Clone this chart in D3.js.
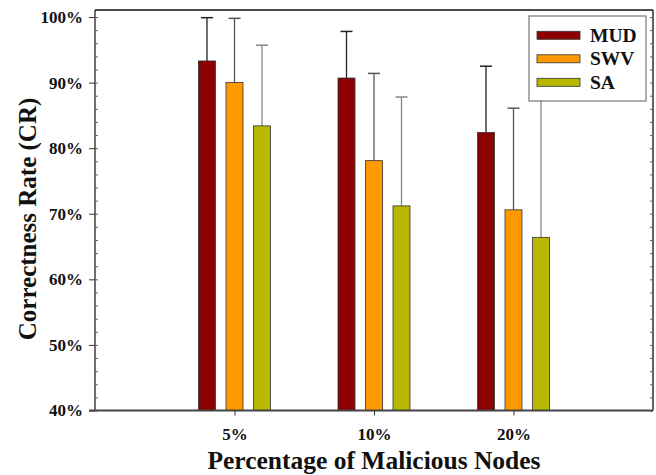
<!DOCTYPE html>
<html>
<head>
<meta charset="utf-8">
<script src="https://cdn.jsdelivr.net/npm/d3@7/dist/d3.min.js"></script>
<style>
  html, body { margin: 0; padding: 0; background: #fff; }
  svg { display: block; }
  text { font-family: "Liberation Serif", "Times New Roman", serif; font-weight: bold; fill: #111; }
</style>
</head>
<body>
<svg id="chart" width="656" height="475"></svg>
<script>
const categories = ["5%", "10%", "20%"];
const series = ["MUD", "SWV", "SA"];
const mudValues = [93.3, 90.7, 82.4];
const swvValues = [90.0, 78.1, 70.6];
const saValues = [83.4, 71.2, 66.4];
const mudErr = [6.6, 7.1, 10.1];
const swvErr = [9.8, 13.3, 15.5];
const saErr = [12.3, 16.6, 21.5];
const yTickValues = [40, 50, 60, 70, 80, 90, 100];
const yMinorValues = d3.range(40, 101, 2);
const colors = ["#8b0000", "#ff9900", "#b8b800"];
const errColors = ["#222", "#555", "#888"];

const valuesBySeries = [mudValues, swvValues, saValues];
const errBySeries = [mudErr, swvErr, saErr];
const data = [];
series.forEach((s, si) => {
  categories.forEach((c, ci) => {
    data.push({ s, si, c, v: valuesBySeries[si][ci], e: errBySeries[si][ci] });
  });
});

const svg = d3.select("#chart");
const L = 95, R = 653, T = 10, B = 410.5;

const x = d3.scalePoint().domain(categories).range([L, R]).padding(1);
const xi = d3.scalePoint().domain(series).range([-27.5, 27.5]);
const y = d3.scaleLinear().domain([40, 101.07]).range([B, T]);
const barW = 17;

const g = svg.append("g");
g.selectAll("line.err").data(data).join("line")
  .attr("x1", d => x(d.c) + xi(d.s)).attr("x2", d => x(d.c) + xi(d.s))
  .attr("y1", d => y(d.v)).attr("y2", d => y(d.v + d.e))
  .attr("stroke", d => errColors[d.si]).attr("stroke-width", 1.3);
g.selectAll("line.cap").data(data).join("line")
  .attr("x1", d => x(d.c) + xi(d.s) - 6).attr("x2", d => x(d.c) + xi(d.s) + 6)
  .attr("y1", d => y(d.v + d.e)).attr("y2", d => y(d.v + d.e))
  .attr("stroke", d => errColors[d.si]).attr("stroke-width", 1.5);
g.selectAll("rect.bar").data(data).join("rect")
  .attr("x", d => x(d.c) + xi(d.s) - barW / 2)
  .attr("width", barW)
  .attr("y", d => y(d.v))
  .attr("height", d => B - y(d.v))
  .attr("fill", d => colors[d.si])
  .attr("stroke", "#333").attr("stroke-width", 0.8);

svg.append("line").attr("x1", L).attr("x2", R).attr("y1", T).attr("y2", T).attr("stroke", "#111").attr("stroke-width", 1.3);
svg.append("line").attr("x1", R).attr("x2", R).attr("y1", T).attr("y2", B).attr("stroke", "#111").attr("stroke-width", 1.3);

const yAxis = d3.axisLeft(y).tickValues(yTickValues).tickSize(6).tickPadding(6).tickFormat(d => d + "%");
const ya = svg.append("g").attr("transform", `translate(${L},0)`).call(yAxis);
ya.select(".domain").attr("d", `M0,${T}V${B}`).attr("stroke", "#222").attr("stroke-width", 1.3);
ya.selectAll(".tick line").attr("stroke", "#333");
ya.selectAll(".tick text").style("font-size", "17px").style("font-family", "Liberation Serif, serif").style("font-weight", "bold").attr("fill", "#111");

const yMinor = d3.axisRight(y).tickValues(yMinorValues).tickSize(3).tickFormat("");
const ym = svg.append("g").attr("transform", `translate(${L},0)`).call(yMinor);
ym.select(".domain").remove();
ym.selectAll(".tick line").attr("stroke", "#666");
const yMinorR = d3.axisLeft(y).tickValues(yMinorValues).tickSize(3).tickFormat("");
const ymr = svg.append("g").attr("transform", `translate(${R},0)`).call(yMinorR);
ymr.select(".domain").remove();
ymr.selectAll(".tick line").attr("stroke", "#666");

const xAxis = d3.axisBottom(x).tickSize(5).tickPadding(12);
const xa = svg.append("g").attr("transform", `translate(0,${B})`).call(xAxis);
xa.select(".domain").attr("d", `M${L - 6},0H${R}`).attr("stroke", "#444").attr("stroke-width", 1.8);
xa.selectAll(".tick line").attr("stroke", "#333");
xa.selectAll(".tick text").style("font-size", "17px").style("font-family", "Liberation Serif, serif").style("font-weight", "bold").attr("fill", "#111");

svg.append("text").attr("x", (L + R) / 2).attr("y", 469).attr("text-anchor", "middle")
  .style("font-size", "25.5px").text("Percentage of Malicious Nodes");
svg.append("text").attr("transform", `translate(36,${219}) rotate(-90)`).attr("text-anchor", "middle")
  .style("font-size", "25px").text("Correctness Rate (CR)");

const lg = svg.append("g");
lg.append("rect").attr("x", 529).attr("y", 16).attr("width", 117).attr("height", 85)
  .attr("fill", "#fff").attr("stroke", "#777").attr("stroke-width", 1.2);
series.forEach((s, i) => {
  const cy = 35.3 + i * 23.5;
  lg.append("rect").attr("x", 537).attr("y", cy - 4).attr("width", 43).attr("height", 8)
    .attr("fill", colors[i]).attr("stroke", "#333").attr("stroke-width", 0.8);
  lg.append("text").attr("x", 590).attr("y", cy + 6.5).style("font-size", "19.5px").text(s);
});
</script>
</body>
</html>
